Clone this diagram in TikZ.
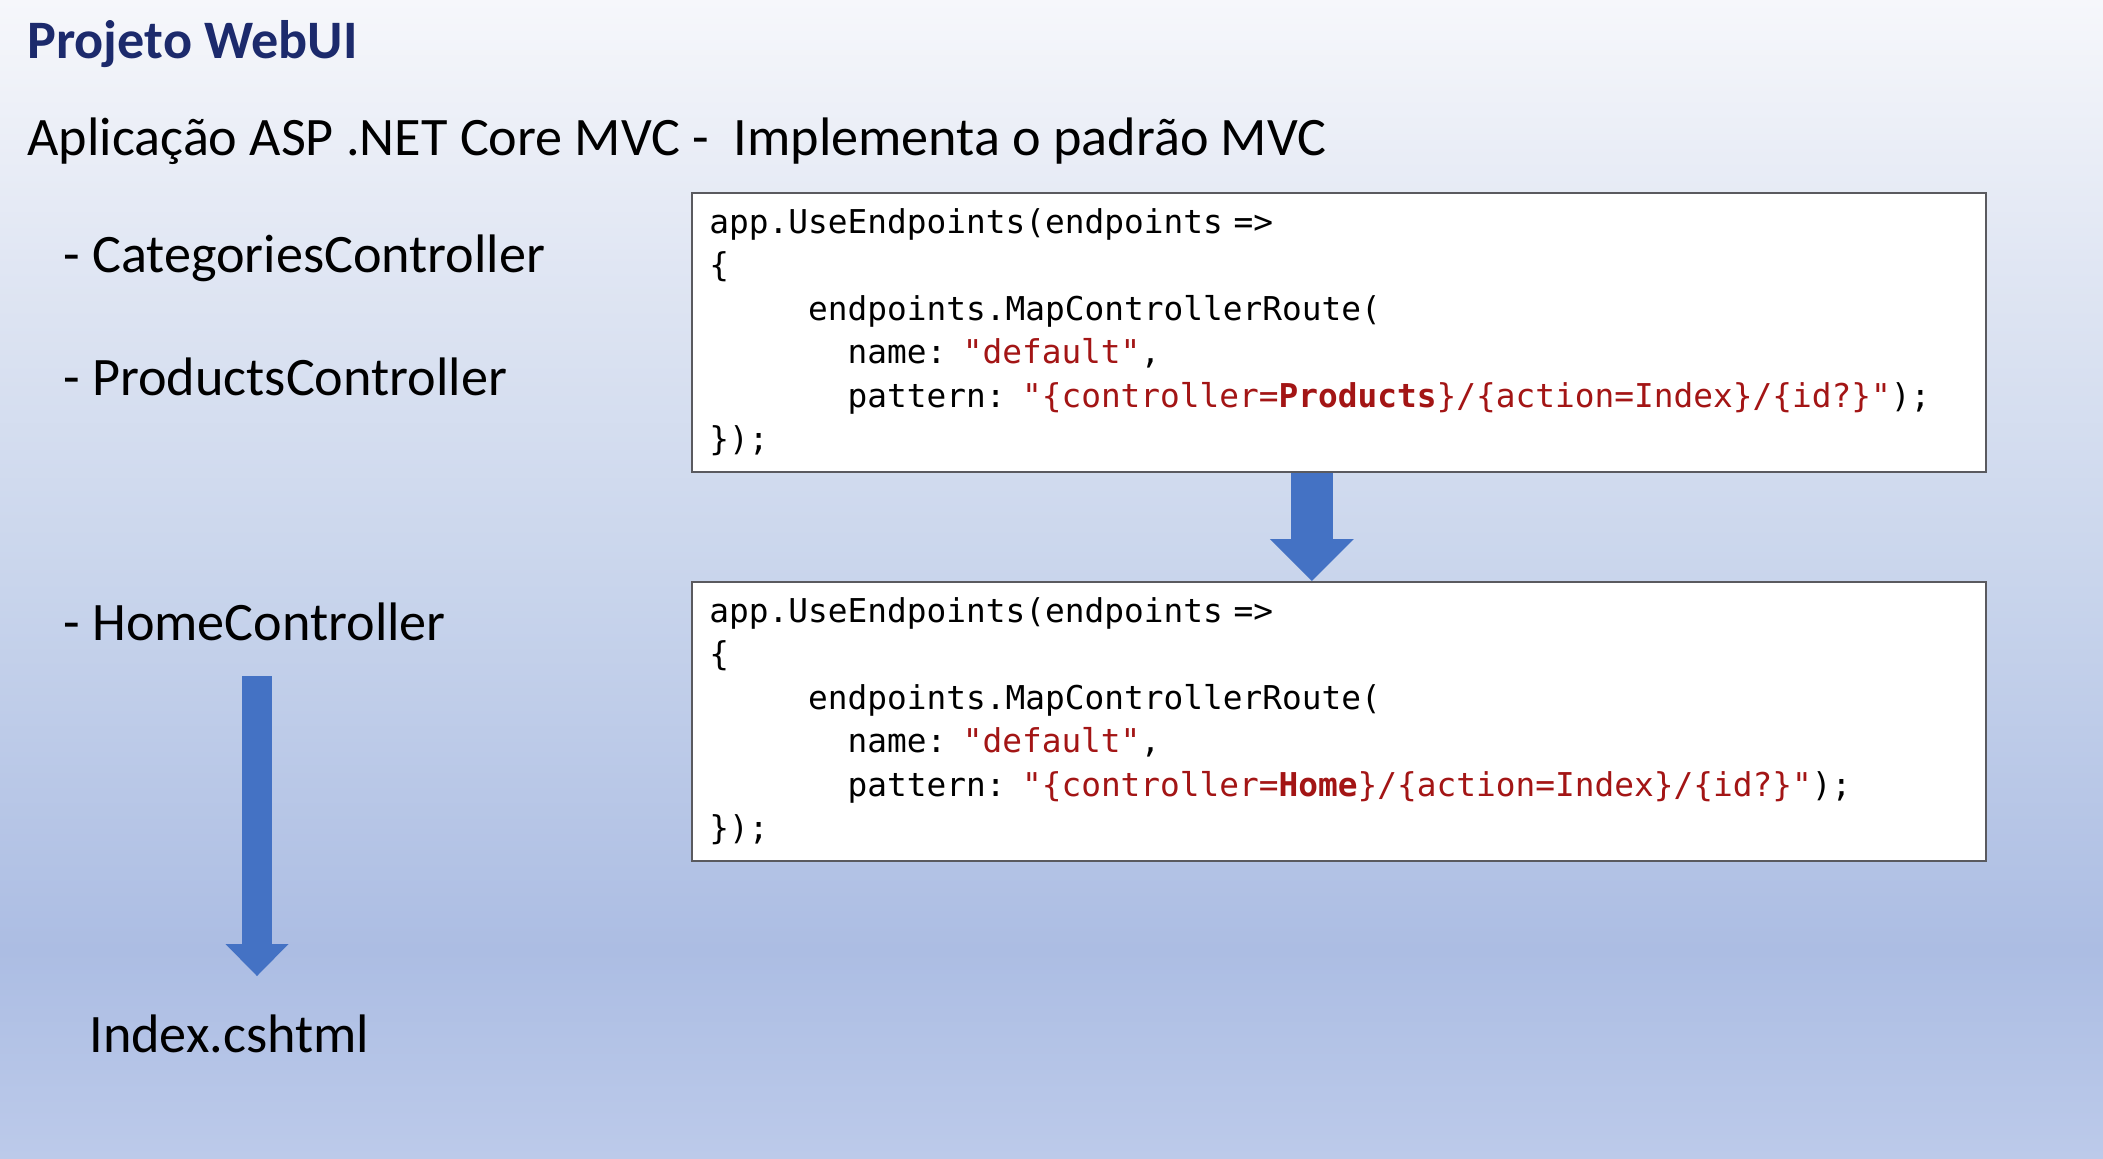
\documentclass[tikz,border=0pt]{standalone}
\usepackage{fontspec}
\setmainfont{Carlito}
\setmonofont{DejaVu Sans Mono}
\usetikzlibrary{positioning}
\usetikzlibrary{arrows.meta}
\definecolor{titleblue}{RGB}{28,42,108}
\definecolor{codered}{RGB}{163,21,21}
\definecolor{arrowblue}{RGB}{68,114,196}
\definecolor{boxline}{RGB}{90,90,95}
\definecolor{bgtop}{RGB}{246,247,251}
\definecolor{bghi}{RGB}{224,230,243}
\definecolor{bgmid}{RGB}{201,213,236}
\definecolor{bglow}{RGB}{172,189,227}
\definecolor{bgbot}{RGB}{188,202,234}
\pgfdeclareverticalshading{slidebg}{100bp}{color(0bp)=(bgbot); color(25bp)=(bgbot); color(34bp)=(bglow); color(50bp)=(bgmid); color(63.5bp)=(bghi); color(75bp)=(bgtop); color(100bp)=(bgtop)}
\newcommand{\codestr}[1]{\textcolor{codered}{#1}}
\newcommand{\codeind}[1]{\hspace*{#1\fontcharwd\font`a}}
\tikzset{
  slidetext/.style={anchor=base west,inner sep=0pt,font=\fontsize{27.1}{32}\selectfont},
  codebox/.style={draw=boxline,line width=0.9pt,fill=white,anchor=north west,minimum width=647pt,minimum height=139.5pt,inner sep=0pt},
  codetext/.style={anchor=base west,inner sep=0pt,text width=640pt,align=left,font=\fontsize{16.4}{21.75}\selectfont\ttfamily},
  blockarrow/.style n args={3}{draw=arrowblue,line width=#1,-{Triangle[width=#2,length=#3,line width=0pt]}}
}
\begin{document}
\begin{tikzpicture}[x=0.5pt,y=-0.5pt]
\useasboundingbox (0,0) rectangle (2103,1158);
\shade[shading=slidebg] (0,0) rectangle (2103,1158);
% headings
\node[slidetext,font=\fontsize{27.1}{32}\selectfont\bfseries,text=titleblue] (title) at (27,58) {Projeto WebUI};
\node[slidetext] (subtitle) at (27,155) {Aplicação ASP .NET Core MVC -\ \ Implementa o padrão MVC};
% controllers
\node[slidetext] (categories) at (63,272) {- CategoriesController};
\node[slidetext] (products) at (63,395) {- ProductsController};
\node[slidetext] (home) at (63,640) {- HomeController};
\node[slidetext] (index) at (89,1052) {Index.cshtml};
\coordinate (homeout) at (257,676);
\coordinate (indexin) at (257,976);
\draw[blockarrow={15pt}{31.5pt}{16pt}] (homeout) -- (indexin);
% routes
\node[codebox] (boxA) at (691,192) {};
\node[codetext] (codeA) at (709,233) {app.UseEndpoints(endpoints =>\\
\{\\
\codeind{5}endpoints.MapControllerRoute(\\
\codeind{7}name: \codestr{"default"},\\
\codeind{7}pattern: \codestr{"\{controller=\textbf{Products}\}/\{action=Index\}/\{id?\}"});\\
\});};
\node[codebox] (boxB) at (691,581) {};
\node[codetext] (codeB) at (709,622) {app.UseEndpoints(endpoints =>\\
\{\\
\codeind{5}endpoints.MapControllerRoute(\\
\codeind{7}name: \codestr{"default"},\\
\codeind{7}pattern: \codestr{"\{controller=\textbf{Home}\}/\{action=Index\}/\{id?\}"});\\
\});};
\draw[blockarrow={21pt}{42pt}{21pt}] ([xshift=-13.5pt]boxA.south) -- ([xshift=-13.5pt]boxB.north);
\end{tikzpicture}
\end{document}
